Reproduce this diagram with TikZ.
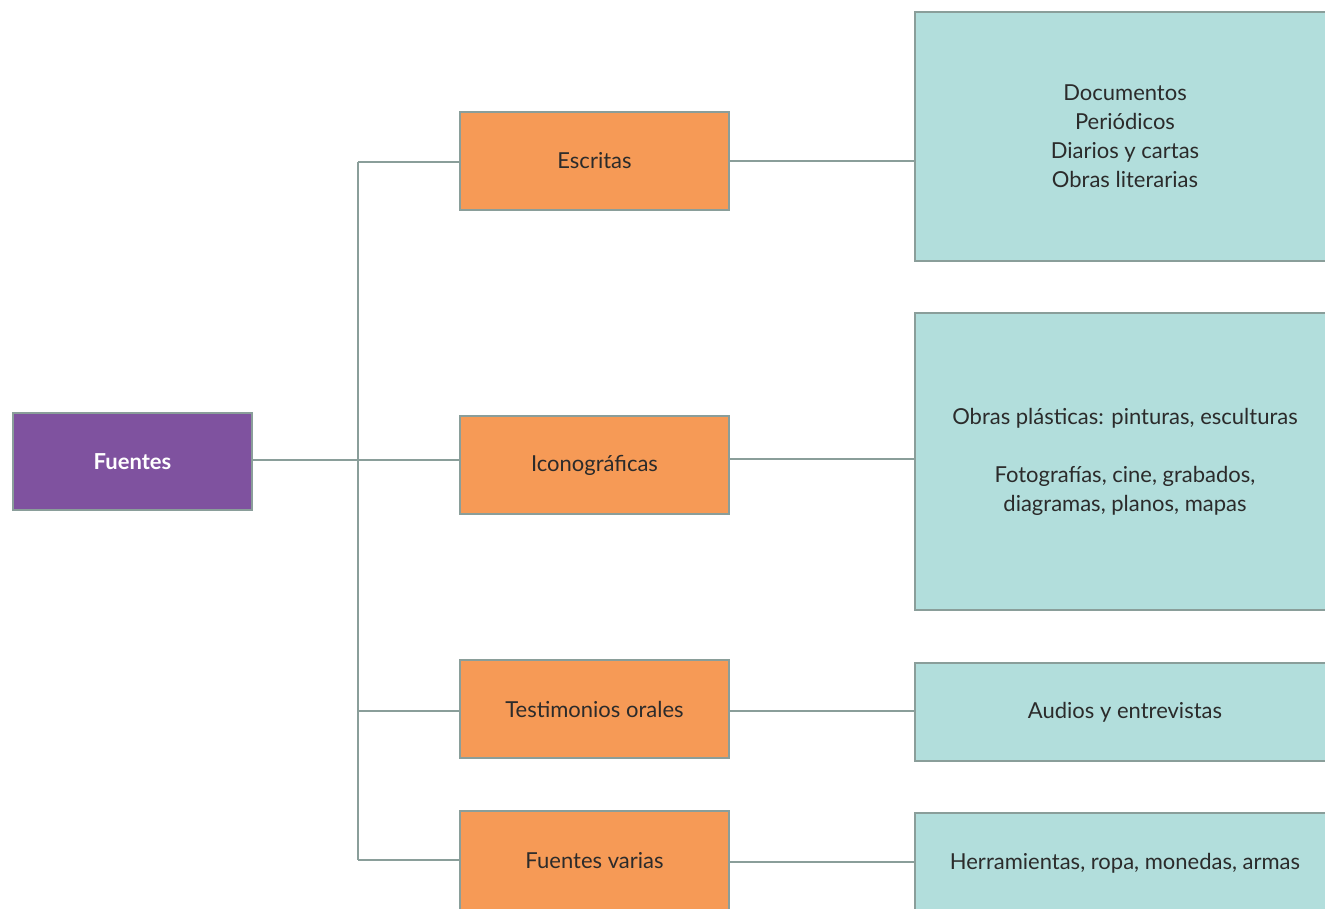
\documentclass[tikz,border=0pt]{standalone}
\usepackage{fontspec}
\setmainfont{Lato}
\definecolor{lineg}{HTML}{8A9E9A}
\definecolor{orng}{HTML}{F69A56}
\definecolor{teal2}{HTML}{B2DEDC}
\definecolor{purp}{HTML}{7F529F}
\definecolor{txt}{HTML}{2B2B2B}
\begin{document}
\begin{tikzpicture}[x=1pt,y=-1pt,
  box/.style={draw=lineg,line width=2pt,rectangle,inner sep=0pt,align=center,font=\fontsize{22}{29}\selectfont,text=txt},
  rootbox/.style={box,fill=purp,text=white,minimum width=239pt,minimum height=97pt,font=\fontsize{22}{29}\selectfont\bfseries},
  midbox/.style={box,fill=orng,minimum width=269pt,minimum height=98pt},
  leafbox/.style={box,fill=teal2,minimum width=420pt},
  conn/.style={draw=lineg,line width=2.5pt}]
\useasboundingbox (0,0) rectangle (1325,908);
\clip (0,0) rectangle (1325,908);
\node[rootbox] (fu) at (132.5,461.5) {Fuentes};
\node[midbox] (es) at (594.5,161) {Escritas};
\node[midbox] (ic) at (594.5,465) {Iconográficas};
\node[midbox] (te) at (594.5,709) {Testimonios orales};
\node[midbox,minimum height=100pt] (fv) at (594.5,861) {Fuentes varias};
\node[leafbox,minimum height=249pt] (r1) at (1125,136.5) {Documentos\\Periódicos\\Diarios y cartas\\Obras literarias};
\node[leafbox,minimum height=297pt] (r2) at (1125,461.5) {Obras plásticas: pinturas, esculturas\\[29pt]Fotografías, cine, grabados,\\diagramas, planos, mapas};
\node[leafbox,minimum height=98pt] (r3) at (1125,712) {Audios y entrevistas};
\node[leafbox,minimum height=100pt] (r4) at (1125,863) {Herramientas, ropa, monedas, armas};
\coordinate (ttop) at (358,162);
\coordinate (tbot) at (358,860);
\draw[conn] (ttop) -- (tbot);
\draw[conn] (fu.east |- 0,460) -- (ic.west |- 0,460);
\draw[conn] (ttop) -- (es.west |- ttop);
\draw[conn] (358,711) -- (te.west |- 0,711);
\draw[conn] (tbot) -- (fv.west |- tbot);
\draw[conn] (es.east |- 0,161) -- (r1.west |- 0,161);
\draw[conn] (ic.east |- 0,459) -- (r2.west |- 0,459);
\draw[conn] (te.east |- 0,711) -- (r3.west |- 0,711);
\draw[conn] (fv.east |- 0,862) -- (r4.west |- 0,862);
\end{tikzpicture}
\end{document}
